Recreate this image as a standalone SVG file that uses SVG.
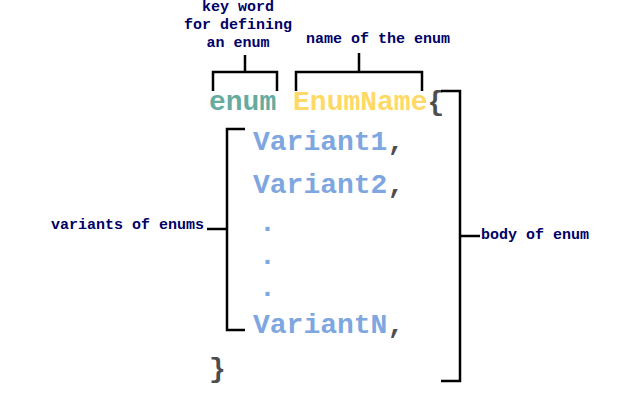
<svg xmlns="http://www.w3.org/2000/svg" width="639" height="406" viewBox="0 0 639 406">
<style>
.code{font-family:"Liberation Mono","DejaVu Sans Mono",monospace;font-weight:bold;font-size:28px}
.lbl{font-family:"Liberation Mono","DejaVu Sans Mono",monospace;font-weight:bold;font-size:15px;fill:#000066}
.br{fill:none;stroke:#000;stroke-width:2.5}
.kw{fill:#67AB9F}.nm{fill:#FFD966}.vr{fill:#7EA6E0}.pn{fill:#4D4D4D}
</style>
<rect width="639" height="406" fill="#fff"/>
<g id="code">
<text class="code" x="209" y="110"><tspan class="kw">enum</tspan> <tspan class="nm">EnumName</tspan><tspan class="pn">{</tspan></text>
<text class="code" x="253" y="150"><tspan class="vr">Variant1</tspan><tspan class="pn">,</tspan></text>
<text class="code" x="253" y="193"><tspan class="vr">Variant2</tspan><tspan class="pn">,</tspan></text>
<text class="code vr" x="259" y="231">.</text>
<text class="code vr" x="259" y="264">.</text>
<text class="code vr" x="259" y="296">.</text>
<text class="code" x="253" y="333"><tspan class="vr">VariantN</tspan><tspan class="pn">,</tspan></text>
<text class="code pn" x="209" y="377">}</text>
</g>
<g id="label-keyword">
<text class="lbl" x="238" y="11" text-anchor="middle">key word</text>
<text class="lbl" x="238" y="29" text-anchor="middle">for defining</text>
<text class="lbl" x="238" y="47" text-anchor="middle">an enum</text>
</g>
<g id="label-name"><text class="lbl" x="378" y="43" text-anchor="middle">name of the enum</text></g>
<g id="label-variants"><text class="lbl" x="51" y="229">variants of enums</text></g>
<g id="label-body"><text class="lbl" x="481" y="239">body of enum</text></g>
<g id="connectors">
<path class="br" d="M213,91V72H277V91M245,72V55"/>
<path class="br" d="M296,91V72H422V91M359,72V53"/>
<path class="br" d="M441,91H460V381H441M460,236H480"/>
<path class="br" d="M245,129H227V330H245M227,229H207"/>
</g>
</svg>
